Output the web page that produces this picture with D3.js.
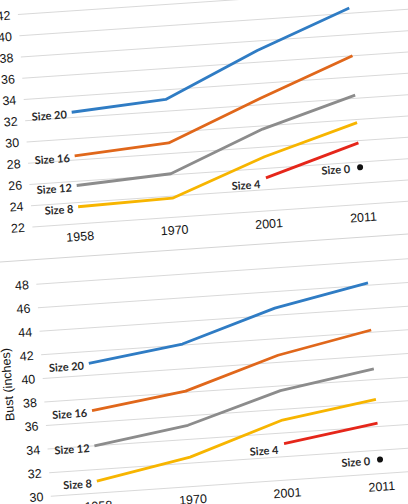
<!DOCTYPE html>
<html lang="en">
<head>
    <meta charset="UTF-8">
    <title>Clothing sizes: waist and bust</title>
    <script src="https://d3js.org/d3.v7.min.js"></script>
    <style>
        body {
            margin: 0;
            background: #fff;
            font-family: "Liberation Sans", Arial, sans-serif;
        }
        .grid line { stroke: #d9d9d9; stroke-width: 1; }
        .tick-label { font-size: 12.5px; fill: #161616; }
        .size-label { font-family: Lato, "Open Sans", sans-serif; font-weight: 700; font-size: 11px; fill: #2a2a2a; }
    </style>
</head>
<body>
<div id="chart"></div>
<script>
    // categories
    const years = ["1958", "1970", "2001", "2011"];
    const sizeNames = ["Size 20", "Size 16", "Size 12", "Size 8", "Size 4", "Size 0"];
    const sizeColors = ["#2f7cc4", "#e0671b", "#8c8c8c", "#f7b500", "#e5261a", "#111"];

    // top chart (waist, inches)
    const waistTicks = [22, 24, 26, 28, 30, 32, 34, 36, 38, 40, 42];
    const waist20 = [32.5, 33.1, 37.1, 40.5];
    const waist16 = [28.4, 29.0, 32.6, 36.0];
    const waist12 = [25.6, 26.1, 29.7, 32.3];
    const waist8 = [23.6, 23.8, 27.1, 29.7];
    const waist4 = [null, null, 25.1, 27.8];
    const waist0 = [null, null, null, 25.5];

    // bottom chart (bust, inches)
    const bustTicks = [30, 32, 34, 36, 38, 40, 42, 44, 46, 48];
    const bust20 = [41.0, 42.1, 44.6, 46.2];
    const bust16 = [37.0, 38.1, 40.6, 42.2];
    const bust12 = [34.0, 35.2, 37.6, 38.9];
    const bust8 = [31.0, 32.5, 35.1, 36.3];
    const bust4 = [null, null, 33.1, 34.3];
    const bust0 = [null, null, null, 31.2];

    const width = 408;
    const height = 504;

    const svg = d3.select('#chart')
        .append('svg')
        .attr('width', width)
        .attr('height', height)
        .style('display', 'block');

    // the source picture is a slightly tilted photo of two stacked charts
    const root = svg.append('g')
        .attr('transform', 'rotate(-3.9, 204, 252)');

    const x = d3.scalePoint()
        .domain(years)
        .range([81.5, 365.5]);

    // separator between the two charts
    root.append('line')
        .attr('x1', -30).attr('x2', 440)
        .attr('y1', 248).attr('y2', 248)
        .attr('stroke', '#d4d4d4');

    function drawChart(ticks, series, yRange, title) {
        const y = d3.scaleLinear()
            .domain([ticks[0], ticks[ticks.length - 1]])
            .range(yRange);

        const g = root.append('g');

        // horizontal gridlines
        g.append('g').attr('class', 'grid')
            .selectAll('line')
            .data(ticks)
            .enter()
            .append('line')
            .attr('x1', 34.5).attr('x2', 440)
            .attr('y1', d => y(d)).attr('y2', d => y(d));

        // y tick labels
        g.selectAll('.ytick')
            .data(ticks)
            .enter()
            .append('text')
            .attr('class', 'tick-label')
            .attr('x', 27)
            .attr('y', d => y(d))
            .attr('dy', '0.35em')
            .attr('text-anchor', 'end')
            .text(d => d);

        // x tick labels
        g.selectAll('.xtick')
            .data(years)
            .enter()
            .append('text')
            .attr('class', 'tick-label')
            .attr('x', d => x(d))
            .attr('y', y(ticks[0]) + 12.8)
            .attr('dy', '0.35em')
            .attr('text-anchor', 'middle')
            .text(d => d);

        if (title) {
            g.append('text')
                .attr('class', 'tick-label')
                .attr('transform', `translate(-1, ${(yRange[0] + yRange[1]) / 2 - 8}) rotate(-90)`)
                .attr('dy', '0.35em')
                .attr('text-anchor', 'middle')
                .text(title);
        }

        const line = d3.line()
            .defined(d => d.v !== null)
            .x(d => x(d.year))
            .y(d => y(d.v));

        series.forEach((vals, i) => {
            const pts = vals.map((v, j) => ({ year: years[j], v: v }));
            const valid = pts.filter(p => p.v !== null);
            const first = valid[0];

            if (valid.length > 1) {
                g.append('path')
                    .datum(pts)
                    .attr('fill', 'none')
                    .attr('stroke', sizeColors[i])
                    .attr('stroke-width', 2.8)
                    .attr('stroke-linejoin', 'round')
                    .attr('d', line);
            } else {
                g.append('circle')
                    .attr('cx', x(first.year))
                    .attr('cy', y(first.v))
                    .attr('r', 3)
                    .attr('fill', sizeColors[i]);
            }

            // label sits to the left of the first point
            let gap = 5, drop = 2;
            if (sizeNames[i] === 'Size 4') { gap = 6; drop = 6; }
            if (sizeNames[i] === 'Size 0') { gap = 10; drop = 1; }
            g.append('text')
                .attr('class', 'size-label')
                .attr('x', x(first.year) - gap)
                .attr('y', y(first.v) + drop)
                .attr('dy', '0.35em')
                .attr('text-anchor', 'end')
                .text(sizeNames[i]);
        });
    }

    drawChart(waistTicks, [waist20, waist16, waist12, waist8, waist4, waist0], [215.3, 2.5], null);
    drawChart(bustTicks, [bust20, bust16, bust12, bust8, bust4, bust0], [485.2, 272.7], 'Bust (inches)');
</script>
</body>
</html>
